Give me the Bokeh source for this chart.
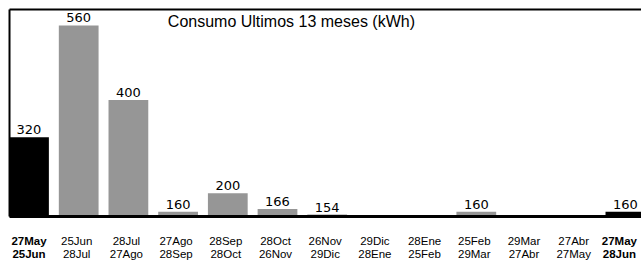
from bokeh.plotting import figure
from bokeh.models import Range1d, LabelSet, ColumnDataSource, Label
from bokeh.core.properties import value
from bokeh.embed import file_html
from bokeh.resources import INLINE

title_text = "Consumo Ultimos 13 meses (kWh)"
period_start = ["27May", "25Jun", "28Jul", "27Ago", "28Sep", "28Oct", "26Nov",
                "29Dic", "28Ene", "25Feb", "29Mar", "27Abr", "27May"]
period_end = ["25Jun", "28Jul", "27Ago", "28Sep", "28Oct", "26Nov", "29Dic",
              "28Ene", "25Feb", "29Mar", "27Abr", "27May", "28Jun"]
consumo = [320, 560, 400, 160, 200, 166, 154, None, None, 160, None, None, 160]
highlight = [True, False, False, False, False, False, False,
             False, False, False, False, False, True]

# value axis starts at 150 (as on the bill); frame covers the whole canvas
Y_BASE, Y_TOP = 150, 594
Y_LO, Y_HI = 53.4, 613.5
X_LO, X_HI = -0.5734, 12.324
X_BORDER = -0.392

p = figure(width=641, height=261, output_backend="svg", toolbar_location=None,
           x_range=Range1d(X_LO, X_HI), y_range=Range1d(Y_LO, Y_HI),
           min_border_left=0, min_border_right=0, min_border_top=0,
           min_border_bottom=0)
p.xaxis.visible = False
p.yaxis.visible = False
p.xgrid.visible = False
p.ygrid.visible = False
p.outline_line_color = None
p.background_fill_color = "white"
p.border_fill_color = "white"

idx = [i for i, v in enumerate(consumo) if v is not None]
bars = ColumnDataSource(dict(
    x=idx,
    top=[consumo[i] for i in idx],
    label=[str(consumo[i]) for i in idx],
    color=["black" if highlight[i] else "#969696" for i in idx],
))
p.vbar(x="x", top="top", bottom=Y_BASE, width=0.8, source=bars,
       fill_color="color", line_color=None)

p.add_layout(LabelSet(x="x", y="top", text="label", source=bars,
                      text_align="center", text_baseline="alphabetic",
                      y_offset=3, text_font=value("DejaVu Sans"),
                      text_font_size=value("13px"), text_color=value("black")))

# chart borders (left, top, baseline)
p.segment(x0=[X_BORDER, X_BORDER], y0=[Y_BASE, Y_TOP],
          x1=[X_BORDER, X_HI], y1=[Y_TOP, Y_TOP],
          line_color="black", line_width=2)
p.segment(x0=[X_BORDER], y0=[Y_BASE], x1=[X_HI], y1=[Y_BASE],
          line_color="black", line_width=3)

# period labels (nudged slightly left; the last one kept inside the edge)
n = len(period_start)
for flag, style in ((False, "normal"), (True, "bold")):
    ids = [i for i in range(n) if highlight[i] == flag]
    src = ColumnDataSource(dict(x=ids,
                                y=[Y_BASE] * len(ids),
                                dx=[0 if i == 0 else (-6 if i == n - 1 else -2) for i in ids],
                                a=[period_start[i] for i in ids],
                                b=[period_end[i] for i in ids]))
    for col, off in (("a", -29), ("b", -42)):
        p.add_layout(LabelSet(x="x", y="y", text=col, source=src,
                              x_offset="dx",
                              text_align="center", text_baseline="alphabetic",
                              y_offset=off, text_font=value("Liberation Sans"),
                              text_font_size=value("11.5px"),
                              text_font_style=value(style),
                              text_color=value("black")))

p.add_layout(Label(x=5.28, y=Y_TOP, text=title_text, text_align="center",
                   text_baseline="top", y_offset=-3,
                   text_font="Liberation Sans",
                   text_font_size="16px", text_color="black"))

open("out.html", "w").write(file_html(p, INLINE))
